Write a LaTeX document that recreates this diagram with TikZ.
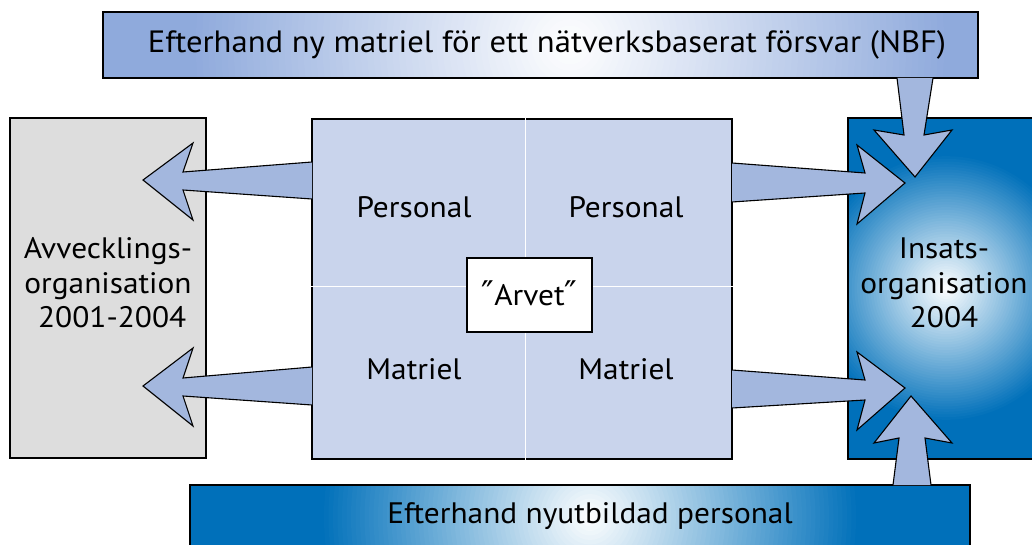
\documentclass[tikz,border=0pt]{standalone}
\usepackage{fontspec}
\setmainfont[FakeStretch=1.06]{PT Sans}
\newfontfamily\quotefont{DejaVu Sans}
\definecolor{banL}{RGB}{143,170,220}
\definecolor{arrowc}{RGB}{163,183,222}
\definecolor{centc}{RGB}{201,212,236}
\definecolor{greyc}{RGB}{221,221,221}
\definecolor{darkb}{RGB}{0,112,186}
\begin{document}
\begin{tikzpicture}[x=1pt,y=-1pt,
  boxline/.style={draw=black, line width=1.3pt},
  blockarrow/.style={fill=arrowc, draw=black, line width=1.1pt, line join=miter},
  lbl/.style={font=\fontsize{29.6}{34.5}\selectfont, align=center, inner sep=0pt},
  divider/.style={draw=white, line width=1pt}]
\useasboundingbox (0,0) rectangle (1032,545);

% ---------- left box
\draw[boxline, fill=greyc] (10,118) rectangle (206,458);
\node[lbl] (avv) at (108,283) {Avvecklings-\\organisation\\\ 2001-2004};

% ---------- right box with radial gradient (concentric rings)
\begin{scope}
  \clip (848,118) rectangle (1040,459);
  \fill[darkb] (848,118) rectangle (1040,459);
  \foreach \i in {0,...,50}{
    \pgfmathsetmacro{\rr}{134*(1-\i/50)+0.5}
    \pgfmathsetmacro{\pc}{2*\i}
    \fill[white!\pc!darkb] (946,288) circle (\rr);
  }
\end{scope}
\draw[boxline] (1040,118) -- (848,118) -- (848,459) -- (1040,459);
\node[lbl] (ins) at (944,283) {Insats-\\organisation\\2004};

% ---------- centre box
\draw[boxline, fill=centc] (312,119) rectangle (732,459);
\draw[divider] (525,116) -- (525,462);
\draw[divider] (310,286) -- (735,286);
\node[lbl] (p1) at (414,207) {Personal};
\node[lbl] (p2) at (626,207) {Personal};
\node[lbl] (m1) at (414,369) {Matriel};
\node[lbl] (m2) at (626,369) {Matriel};
\node[draw=black, line width=1.3pt, fill=white, minimum width=125pt, minimum height=74pt, inner sep=0pt] (arv) at (529.5,295) {};
\node[lbl] (arvt) at (529.5,293) {{\quotefont\fontsize{34}{30}\selectfont ″}Arvet{\quotefont\fontsize{34}{30}\selectfont ″}};

% ---------- horizontal block arrows
\draw[blockarrow] (312,162) -- (183,172) -- (193,143) -- (143,180) -- (193,220) -- (183,190) -- (312,199);
\draw[blockarrow] (312,367) -- (183,378) -- (193,348) -- (143,386) -- (193,426) -- (183,396) -- (312,405);
\draw[blockarrow] (732,163) -- (865,173) -- (857,145) -- (905,183) -- (857,224) -- (865,193) -- (732,202);
\draw[blockarrow] (732,370) -- (865,380) -- (857,352) -- (905,388) -- (857,430) -- (865,400) -- (732,408);

% ---------- top banner
\begin{scope}
  \clip (103,12) rectangle (978,78);
  \fill[banL] (103,12) rectangle (978,78);
  \foreach \i in {0,...,60}{
    \pgfmathsetmacro{\rr}{380*(1-\i/60)+0.5}
    \pgfmathsetmacro{\pc}{100*\i/60}
    \fill[white!\pc!banL] (570,45) circle (\rr);
  }
\end{scope}
\draw[boxline] (103,12) rectangle (978,78);
\node[font=\fontsize{30.8}{36}\selectfont, inner sep=0pt] (top) at (547,45) {Efterhand ny matriel för ett nätverksbaserat försvar (NBF)};

% ---------- bottom banner
\begin{scope}
  \clip (190,485) rectangle (970,549);
  \fill[darkb] (190,485) rectangle (970,549);
  \foreach \i in {0,...,60}{
    \pgfmathsetmacro{\rr}{270*(1-\i/60)+0.5}
    \pgfmathsetmacro{\pc}{100*\i/60}
    \fill[white!\pc!darkb] (590,517) circle (\rr);
  }
\end{scope}
\draw[boxline] (190,549) -- (190,485) -- (970,485) -- (970,549);
\node[font=\fontsize{29.6}{36}\selectfont, inner sep=0pt] (bot) at (590,516) {Efterhand nyutbildad personal};

% ---------- vertical block arrows
\draw[blockarrow] (897,78) -- (904,135) -- (874,130) -- (915,177) -- (952,130) -- (924,135) -- (933,78);
\draw[blockarrow] (893,485) -- (899,438) -- (874,443) -- (911,396) -- (952,443) -- (925,438) -- (931,485);
\end{tikzpicture}
\end{document}
